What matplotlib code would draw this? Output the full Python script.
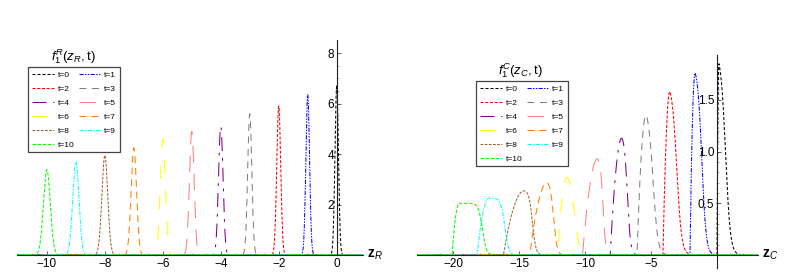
import numpy as np
import matplotlib
matplotlib.use("Agg")
import matplotlib.pyplot as plt
from matplotlib.lines import Line2D

plt.rcParams['font.family'] = ['Liberation Sans', 'DejaVu Sans']
plt.rcParams['mathtext.fontset'] = 'custom'
plt.rcParams['mathtext.rm'] = 'Liberation Sans'
plt.rcParams['mathtext.it'] = 'Liberation Sans:italic'
plt.rcParams['mathtext.bf'] = 'Liberation Sans:bold'
plt.rcParams['lines.scale_dashes'] = False

# ---------------- data ----------------
times = [0, 1, 2, 3, 4, 5, 6, 7, 8, 9, 10]
labels = ["t=%d" % t for t in times]

# left panel: peaks of f1^R(z_R, t)
R_centers = [0, -1, -2, -3, -4, -5, -6, -7, -8, -9, -10]
R_heights = [6.7, 6.35, 5.9, 5.6, 5.1, 4.9, 4.6, 4.25, 3.95, 3.68, 3.38]
R_sigmas = [0.06, 0.063, 0.068, 0.071, 0.078, 0.081, 0.087, 0.094, 0.101, 0.108, 0.118]

# right panel: f1^C(z_C, t) (start, rise width, fall midpoint, fall width, peak)
C_start = [0.0, -2.05, -4.1, -6.07, -8.1, -10.2, -12.1, -14.2, -16.2, -18.2, -20.1]
C_rise = [0.15, 0.4, 0.55, 0.75, 0.95, 1.2, 0.8, 1.4, 1.6, 0.9, 0.55]
C_fallmid = [0.65, -1.15, -3.05, -4.85, -6.8, -8.65, -10.8, -12.4, -14.0, -16.1, -17.8]
C_fallw = [0.18, 0.16, 0.18, 0.18, 0.12, 0.1, 0.18, 0.13, 0.13, 0.15, 0.15]
C_heights = [1.85, 1.76, 1.58, 1.35, 1.13, 0.93, 0.75, 0.70, 0.62, 0.55, 0.50]

# ---------------- styles ----------------
colors = ['black', 'blue', 'red', 'gray', '#800080', '#ff8080', '#ffff00',
          '#ff8000', '#996633', 'cyan', '#00ff00']
dashes = [(2.2, 1.4), (3, 1, 1, 1, 1, 1), (2.2, 1.2), (5, 4), (10, 5, 2, 5),
          (12, 8), (10, 12), (5, 3.5), (2, 1), (3, 1, 1, 1), (2.5, 1.2)]
LW = 0.75

W, H = 809, 278
fig = plt.figure(figsize=(W / 100, H / 100), dpi=100)


def px_axes(x0, x1, ytop, ybot):
    return fig.add_axes([x0 / W, 1 - ybot / H, (x1 - x0) / W, (ybot - ytop) / H])


def style_axes(ax):
    for s in ['top', 'right']:
        ax.spines[s].set_visible(False)
    ax.spines['left'].set_position(('data', 0))
    ax.spines['bottom'].set_position(('data', 0))
    for s in ['left', 'bottom']:
        ax.spines[s].set_linewidth(0.8)
        ax.spines[s].set_color('#222222')
    ax.tick_params(which='major', direction='in', length=3, width=0.6,
                   labelsize=8.5, color='#444444', pad=2)
    ax.tick_params(which='minor', direction='in', length=1.5, width=0.4,
                   color='#666666')
    ax.patch.set_alpha(0)


# ---------- left panel ----------
axL = px_axes(17, 363, 40, 255)
xl = np.linspace(-11.03, 0.907, 8000)
for i in range(len(times)):
    y = R_heights[i] * np.exp(-(xl - R_centers[i]) ** 2 / (2 * R_sigmas[i] ** 2))
    axL.plot(xl, y, color=colors[i], lw=LW, dashes=dashes[i])
axL.set_xlim(-11.03, 0.907)
axL.set_ylim(0, 8.52)
style_axes(axL)
axL.set_xticks([-10, -8, -6, -4, -2, 0])
axL.set_yticks([2, 4, 6, 8])
axL.set_xticks(np.arange(-11, 1, 0.5), minor=True)
axL.set_yticks(np.arange(0.5, 8.5, 0.5), minor=True)
axL.text(1.012, 0.0, r'$\mathbf{z}_{\mathit{R}}$', transform=axL.transAxes,
         fontsize=10, va='center', ha='left')

# ---------- right panel ----------
axC = px_axes(417, 758, 55, 268)
xc = np.linspace(-22.76, 3.11, 8000)
for i in range(len(times)):
    u = np.clip((xc - C_start[i]) / C_rise[i], 0, 1)
    rise = 1 - (1 - u) ** 2
    fall = 1 / (1 + np.exp((xc - C_fallmid[i]) / C_fallw[i]))
    y = rise * fall
    y = C_heights[i] * y / y.max()
    axC.plot(xc, y, color=colors[i], lw=LW, dashes=dashes[i])
axC.set_xlim(-22.76, 3.11)
axC.set_ylim(-0.126, 1.934)
style_axes(axC)
axC.set_xticks([-20, -15, -10, -5])
axC.set_yticks([0.5, 1.0, 1.5])
axC.set_yticklabels(['0.5', '1.0', '1.5'])
axC.set_xticks(np.arange(-22, 3, 1), minor=True)
axC.set_yticks(np.arange(0.1, 1.9, 0.1), minor=True)
axC.text(1.012, 0.126 / 2.06, r'$\mathbf{z}_{\mathit{C}}$', transform=axC.transAxes,
         fontsize=10, va='center', ha='left')

# ---------- legends ----------
order = [0, 2, 4, 6, 8, 10, 1, 3, 5, 7, 9]
handles = [Line2D([], [], color=colors[i], lw=LW, dashes=dashes[i]) for i in range(len(times))]


def add_legend(x, y, title, tx, ty):
    leg = fig.legend([handles[i] for i in order], [labels[i] for i in order],
                     loc='upper left', bbox_to_anchor=(x / W, 1 - y / H),
                     ncol=2, fontsize=6, handlelength=2.7, handletextpad=0.4,
                     columnspacing=0.5, labelspacing=0.74, borderpad=0.45,
                     borderaxespad=0, frameon=True, fancybox=False)
    fr = leg.get_frame()
    fr.set_edgecolor('#444444')
    fr.set_linewidth(0.9)
    fr.set_facecolor('white')
    fr.set_alpha(1)
    fig.text(tx / W, 1 - ty / H, title, fontsize=9.5, ha='center', va='center')


add_legend(28, 67, r'$f_1^{R}(z_R,$t)', 73, 57)
add_legend(476, 81, r'$f_1^{C}(z_C,$t)', 520, 71)

fig.savefig('out.png', dpi=100)
